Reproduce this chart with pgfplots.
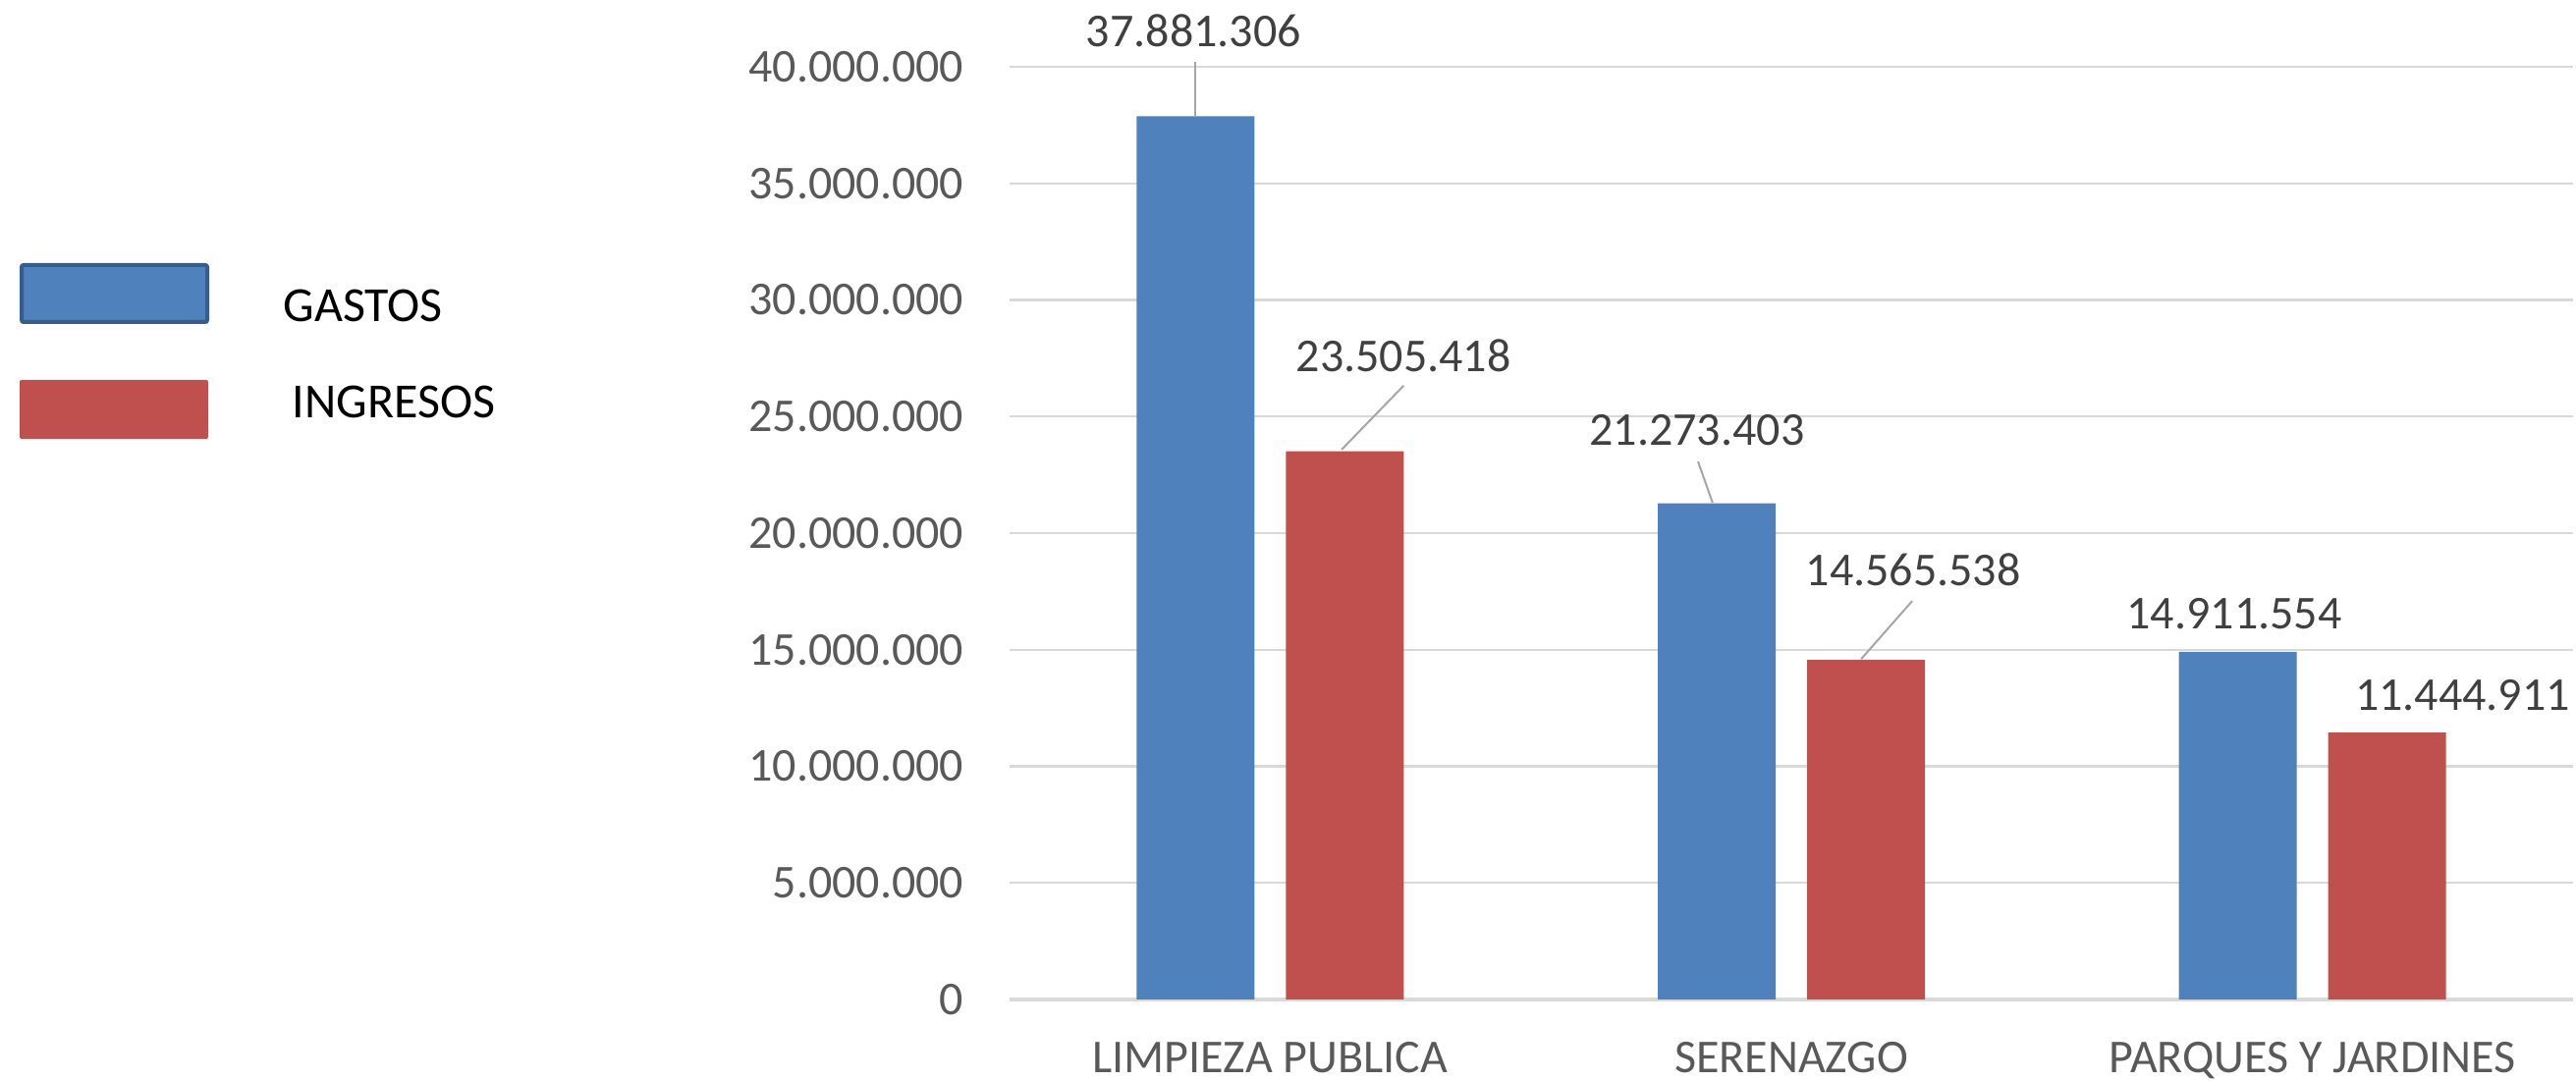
\documentclass[border=0pt]{standalone}
\usepackage{fontspec}
\setmainfont{Carlito}
\usepackage{pgfplots}
\pgfplotsset{compat=1.18}
\definecolor{gblue}{HTML}{4F81BD}
\definecolor{gred}{HTML}{C0504D}
\definecolor{gborder}{HTML}{385D8A}
\definecolor{ticktext}{HTML}{595959}
\definecolor{labtext}{HTML}{404040}
\definecolor{gridc}{HTML}{D9D9D9}
\definecolor{leader}{HTML}{A6A6A6}
\begin{document}
\begin{tikzpicture}
\path[use as bounding box] (0,0) rectangle (655.75pt,275.25pt);
\begin{axis}[
  at={(257pt,20.75pt)}, anchor=south west,
  scale only axis, width=398pt, height=237.5pt,
  xmin=-0.5, xmax=2.5, ymin=0, ymax=40000000,
  ytick={0,5000000,10000000,15000000,20000000,25000000,30000000,35000000,40000000},
  xtick={0,1,2},
  xticklabels={LIMPIEZA PUBLICA, SERENAZGO, PARQUES Y JARDINES},
  scaled y ticks=false,
  /pgf/number format/assume math mode=true,
  /pgf/number format/fixed,
  /pgf/number format/precision=0,
  /pgf/number format/1000 sep={.},
  axis x line*=bottom, axis y line*=left,
  y axis line style={draw=none},
  x axis line style={draw=gridc, line width=0.8pt, -},
  major tick length=0pt,
  tick style={draw=none},
  ymajorgrids, grid style={draw=gridc, line width=0.6pt},
  tick label style={font=\fontsize{12}{14}\selectfont, text=ticktext},
  yticklabel style={anchor=east, inner sep=0pt, xshift=-11.5pt},
  xticklabel style={anchor=base, inner sep=0pt, yshift=-18.6pt},
  ybar, bar width=30pt,
  clip=false,
]
\addplot[ybar, bar shift=-19pt, fill=gblue, draw=none] coordinates {(0,37881306) (1,21273403) (2,14911554)};
\addplot[ybar, bar shift=19pt, fill=gred, draw=none] coordinates {(0,23505418) (1,14565538) (2,11444911)};
% leader lines
\draw[leader, line width=0.5pt] (axis cs:-0.143,37881306) -- (axis cs:-0.143,40200000);
\draw[leader, line width=0.5pt] (axis cs:0.137,23580000) -- (axis cs:0.256,26320000);
\draw[leader, line width=0.5pt] (axis cs:0.849,21300000) -- (axis cs:0.821,23070000);
\draw[leader, line width=0.5pt] (axis cs:1.134,14600000) -- (axis cs:1.232,17090000);
% data labels
\begin{scope}[every node/.style={inner sep=0pt, font=\fontsize{12}{14}\selectfont, text=labtext}]
\node at (axis cs:-0.147,41560000) {37.881.306};
\node at (axis cs:0.256,27620000) {23.505.418};
\node at (axis cs:0.819,24420000) {21.273.403};
\node at (axis cs:1.234,18440000) {14.565.538};
\node at (axis cs:1.850,16550000) {14.911.554};
\node at (axis cs:2.288,13050000) {11.444.911};
\end{scope}
\end{axis}
% legend
\filldraw[fill=gblue, draw=gborder, line width=1pt, rounded corners=0.5pt] (5.5pt,193.25pt) rectangle (52.75pt,207.75pt);
\fill[gred, rounded corners=0.5pt] (5pt,163.5pt) rectangle (53pt,178.5pt);
\node[anchor=west, inner sep=0pt, font=\fontsize{12.5}{15}\selectfont] at (72pt,197.5pt) {GASTOS};
\node[anchor=west, inner sep=0pt, font=\fontsize{12.5}{15}\selectfont] at (74.25pt,173pt) {INGRESOS};
\end{tikzpicture}
\end{document}
